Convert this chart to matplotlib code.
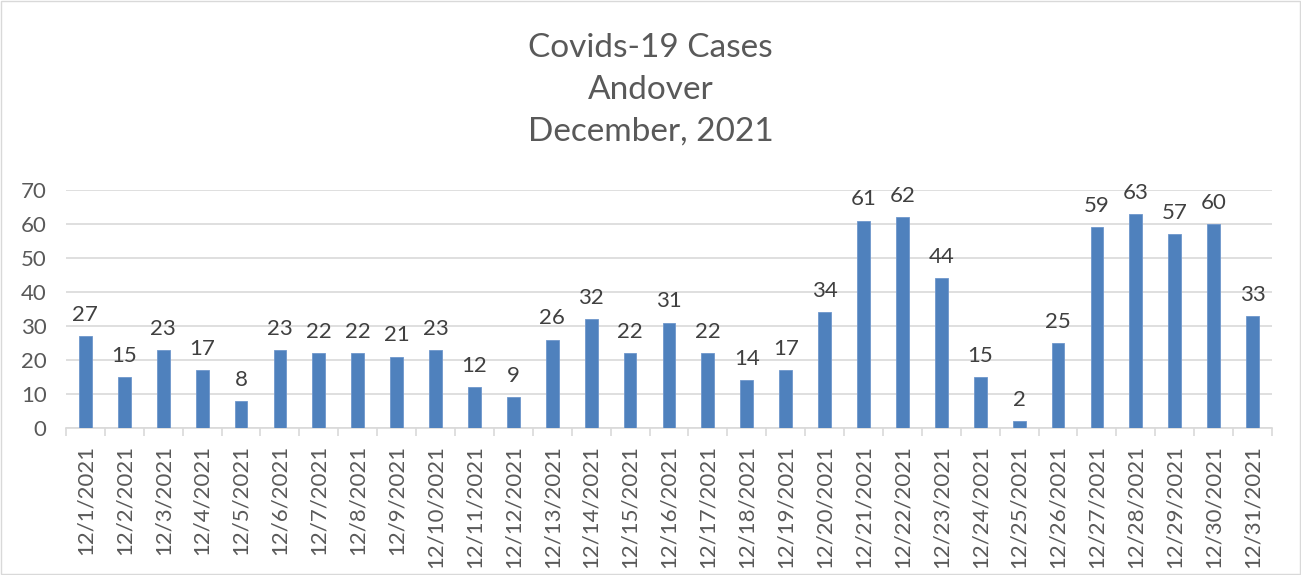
import matplotlib.pyplot as plt
from matplotlib.patches import Rectangle

dates = ["12/%d/2021" % d for d in range(1, 32)]
cases = [27, 15, 23, 17, 8, 23, 22, 22, 21, 23, 12, 9, 26, 32, 22, 31,
         22, 14, 17, 34, 61, 62, 44, 15, 2, 25, 59, 63, 57, 60, 33]
title = "Covids-19 Cases\nAndover\nDecember, 2021"

plt.rcParams['font.family'] = ['Lato', 'DejaVu Sans']
txt = '#595959'

fig = plt.figure(figsize=(13.01, 5.75), dpi=100)
fig.patches.append(Rectangle((0.001, 0.001), 0.998, 0.997, transform=fig.transFigure,
                             fill=False, edgecolor='#D9D9D9', linewidth=1))
ax = fig.add_axes([0.0507, 0.2557, 0.927, 0.4139])

x = range(len(cases))
bars = ax.bar(x, cases, width=0.33, color='#4F81BD', edgecolor='#6F97CC', linewidth=0.6, zorder=3)
for xi, v in zip(x, cases):
    ax.annotate(str(v), (xi, v), xytext=(0, 8), textcoords='offset points',
                ha='center', va='bottom', fontsize=16, color='#404040')

ax.set_xlim(-0.5, len(cases) - 0.5)
ax.set_ylim(0, 70)
ax.set_yticks(range(0, 71, 10))
ax.grid(axis='y', color='#D9D9D9', linewidth=1.2, zorder=0)
ax.set_xticks(list(x))
ax.set_xticklabels(dates, rotation=90)
ax.tick_params(axis='x', length=0, pad=12, labelsize=16, labelcolor=txt)
ax.tick_params(axis='y', length=0, pad=14, labelsize=16, labelcolor=txt)
# category boundary ticks
ax.set_xticks([i - 0.5 for i in range(len(cases) + 1)], minor=True)
ax.tick_params(axis='x', which='minor', length=6, color='#D9D9D9', width=1.2)
for s in ['top', 'right', 'left']:
    ax.spines[s].set_visible(False)
ax.spines['bottom'].set_color('#D9D9D9')
ax.spines['bottom'].set_linewidth(1.2)

fig.text(0.5, 0.8435, title, ha='center', va='center', fontsize=24, color=txt, linespacing=1.5)

fig.savefig('out.png', dpi=100)
